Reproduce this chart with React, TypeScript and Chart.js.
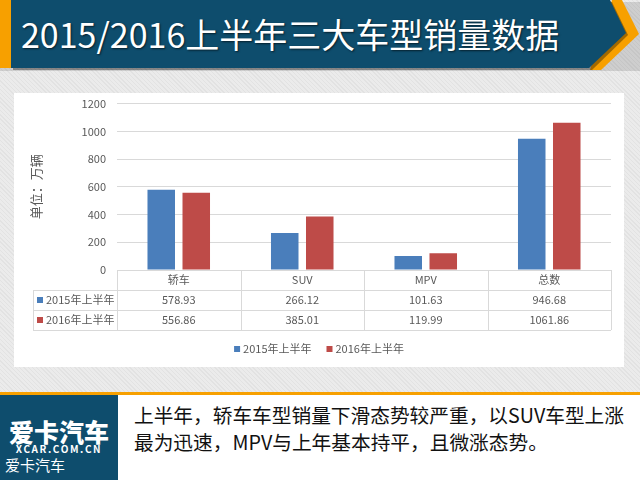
import React, { useEffect, useRef } from "react";
import { Chart, registerables } from "chart.js";

Chart.register(...registerables);

const titleText = "2015/2016上半年三大车型销量数据";
const categories = ["轿车", "SUV", "MPV", "总数"];
const seriesNames = ["2015年上半年", "2016年上半年"];
const sales2015 = [578.93, 266.12, 101.63, 946.68];
const sales2016 = [556.86, 385.01, 119.99, 1061.86];
const yTicks = [0, 200, 400, 600, 800, 1000, 1200];
const yTitle = "单位：万辆";
const captionLines = [
  "上半年，轿车车型销量下滑态势较严重，以SUV车型上涨",
  "最为迅速，MPV与上年基本持平，且微涨态势。",
];
const logoBig = "爱卡汽车";
const logoUrl = "XCAR.COM.CN";
const logoSmall = "爱卡汽车";

const FONT = "'Noto Sans CJK SC', 'Noto Sans', sans-serif";
const BLUE = "#4a7ebb";
const RED = "#be4b48";
const GRID = "#d9d9d9";
const TEXT = "#595959";
const seriesColors = [BLUE, RED];
const seriesData = [sales2015, sales2016];

const CANVAS_TOP = 86;
const CANVAS_LEFT = 14;

const tablePlugin = {
  id: "dataTable",
  afterDraw(chart: any) {
    const { ctx, chartArea, scales } = chart;
    const xs = scales.x;
    const n = categories.length;
    const catW = (chartArea.right - chartArea.left) / n;
    const rowH = 20;
    const top = Math.round(chartArea.bottom);
    const tableLeft = 19;
    const right = chartArea.right;
    ctx.save();
    ctx.strokeStyle = GRID;
    ctx.lineWidth = 1;
    ctx.beginPath();
    ctx.moveTo(chartArea.left, top + 0.5);
    ctx.lineTo(right, top + 0.5);
    for (let r = 1; r <= 3; r++) {
      ctx.moveTo(tableLeft, top + r * rowH + 0.5);
      ctx.lineTo(right, top + r * rowH + 0.5);
    }
    ctx.moveTo(tableLeft + 0.5, top + rowH);
    ctx.lineTo(tableLeft + 0.5, top + 3 * rowH);
    for (let i = 0; i <= n; i++) {
      const px = Math.round(i < n ? xs.getPixelForValue(i) - catW / 2 : xs.getPixelForValue(n - 1) + catW / 2) + 0.5;
      ctx.moveTo(px, top);
      ctx.lineTo(px, top + 3 * rowH);
    }
    ctx.stroke();

    ctx.fillStyle = TEXT;
    ctx.font = `11px ${FONT}`;
    ctx.textBaseline = "middle";
    ctx.textAlign = "center";
    categories.forEach((c, i) => {
      const cx = xs.getPixelForValue(i);
      ctx.fillText(c, cx, top + rowH / 2);
      seriesData.forEach((arr, s) => {
        ctx.fillText(arr[i].toFixed(2), cx, top + rowH * (s + 1) + rowH / 2);
      });
    });
    ctx.textAlign = "left";
    seriesNames.forEach((name, s) => {
      const cy = top + rowH * (s + 1) + rowH / 2;
      ctx.fillStyle = seriesColors[s];
      ctx.fillRect(23, cy - 3, 6, 6);
      ctx.fillStyle = TEXT;
      ctx.fillText(name, 32, cy);
    });

    // bottom legend
    const ly = top + 79;
    const widths = seriesNames.map((nm) => 9 + ctx.measureText(nm).width);
    const gap = 15;
    const total = widths.reduce((a, b) => a + b, 0) + gap;
    let lx = chart.width / 2 - total / 2;
    seriesNames.forEach((name, s) => {
      ctx.fillStyle = seriesColors[s];
      ctx.fillRect(lx, ly - 3, 6, 6);
      ctx.fillStyle = TEXT;
      ctx.fillText(name, lx + 9, ly);
      lx += widths[s] + gap;
    });

    // y axis title
    ctx.save();
    ctx.translate(22.5, (chartArea.top + chartArea.bottom) / 2);
    ctx.rotate(-Math.PI / 2);
    ctx.textAlign = "center";
    ctx.font = `13px ${FONT}`;
    ctx.fillStyle = TEXT;
    ctx.fillText(yTitle, 0, 0);
    ctx.restore();
    ctx.restore();
  },
};

function ChartPanel() {
  const ref = useRef<HTMLCanvasElement | null>(null);
  useEffect(() => {
    if (!ref.current) return;
    const chart = new Chart(ref.current, {
      type: "bar",
      data: {
        labels: categories,
        datasets: seriesNames.map((name, s) => ({
          label: name,
          data: seriesData[s],
          backgroundColor: seriesColors[s],
          categoryPercentage: 0.567,
          barPercentage: 0.786,
        })),
      },
      options: {
        animation: false,
        responsive: false,
        maintainAspectRatio: false,
        devicePixelRatio: 1,
        layout: { padding: { left: 0, right: 13, top: 0, bottom: 97 } },
        plugins: { legend: { display: false }, tooltip: { enabled: false } },
        scales: {
          x: { display: false },
          y: {
            min: 0,
            max: 1200,
            afterFit: (s: any) => {
              s.width = 103;
            },
            afterBuildTicks: (s: any) => {
              s.ticks = yTicks.map((v) => ({ value: v }));
            },
            ticks: {
              color: TEXT,
              font: { size: 11, family: FONT },
              padding: 11,
              callback: (v: any) => String(v),
            },
            grid: { color: GRID, drawTicks: false },
            border: { display: false },
          },
        },
      },
      plugins: [tablePlugin],
    });
    return () => chart.destroy();
  }, []);
  return (
    <canvas
      ref={ref}
      width={610}
      height={367 - CANVAS_TOP}
      style={{
        position: "absolute",
        left: CANVAS_LEFT,
        top: CANVAS_TOP,
        width: 610,
        height: 367 - CANVAS_TOP,
        display: "block",
      }}
    />
  );
}

export default function App() {
  return (
    <div
      style={{
        position: "fixed",
        left: 0,
        top: 0,
        width: 640,
        height: 480,
        overflow: "hidden",
        fontFamily: FONT,
        background: "repeating-linear-gradient(45deg, #e2e2e2 0px, #e2e2e2 1px, #ebebeb 1px, #ebebeb 3px)",
      }}
    >
      <svg width={640} height={76} style={{ position: "absolute", left: 0, top: 0 }}>
        <polygon points="0,2 640,2 640,71 0,71" fill="rgba(0,0,0,0.12)" />
        <polygon points="612,0 622,0 639,34 601,70 590,70" fill="#f7a000" />
        <polygon points="0,0 11,0 11,68 0,68" fill="#f7a000" />
        <polygon points="13,2 612,2 628,35 592,70 13,70" fill="rgba(0,0,0,0.35)" />
        <polygon points="11,0 610,0 626,33 589,68 11,68" fill="#0e4d6d" />
      </svg>
      <div
        style={{
          position: "absolute",
          left: 21,
          top: 0,
          height: 68,
          lineHeight: "68px",
          fontSize: 34,
          color: "#ffffff",
          whiteSpace: "nowrap",
          textShadow: "1px 1px 2px rgba(0,0,0,0.6)",
        }}
      >
        {titleText}
      </div>
      <div style={{ position: "absolute", left: 14, top: 93, width: 610, height: 274, background: "#ffffff" }} />
      <ChartPanel />
      <div style={{ position: "absolute", left: 0, top: 392, width: 640, height: 3, background: "#f7a000" }} />
      <div style={{ position: "absolute", left: 0, top: 395, width: 640, height: 85, background: "#ffffff" }} />
      <div style={{ position: "absolute", left: 0, top: 395, width: 118, height: 85, background: "#0e4d6d" }} />
      <div
        style={{
          position: "absolute",
          left: 9,
          top: 416,
          width: 100,
          textAlign: "center",
          fontSize: 25,
          lineHeight: "30px",
          fontWeight: 900,
          color: "#ffffff",
          whiteSpace: "nowrap",
        }}
      >
        {logoBig}
      </div>
      <div
        style={{
          position: "absolute",
          left: 9,
          top: 442,
          width: 100,
          textAlign: "center",
          fontSize: 10,
          lineHeight: "14px",
          fontWeight: 700,
          letterSpacing: 1.6,
          color: "#ffffff",
          whiteSpace: "nowrap",
        }}
      >
        {logoUrl}
      </div>
      <div
        style={{
          position: "absolute",
          left: 5,
          top: 455,
          fontSize: 15,
          lineHeight: "20px",
          color: "#ffffff",
          whiteSpace: "nowrap",
        }}
      >
        {logoSmall}
      </div>
      <div
        style={{
          position: "absolute",
          left: 134,
          top: 401,
          fontSize: 19.7,
          lineHeight: "27px",
          color: "#111111",
          whiteSpace: "nowrap",
        }}
      >
        {captionLines.map((l, i) => (
          <div key={i}>{l}</div>
        ))}
      </div>
    </div>
  );
}
